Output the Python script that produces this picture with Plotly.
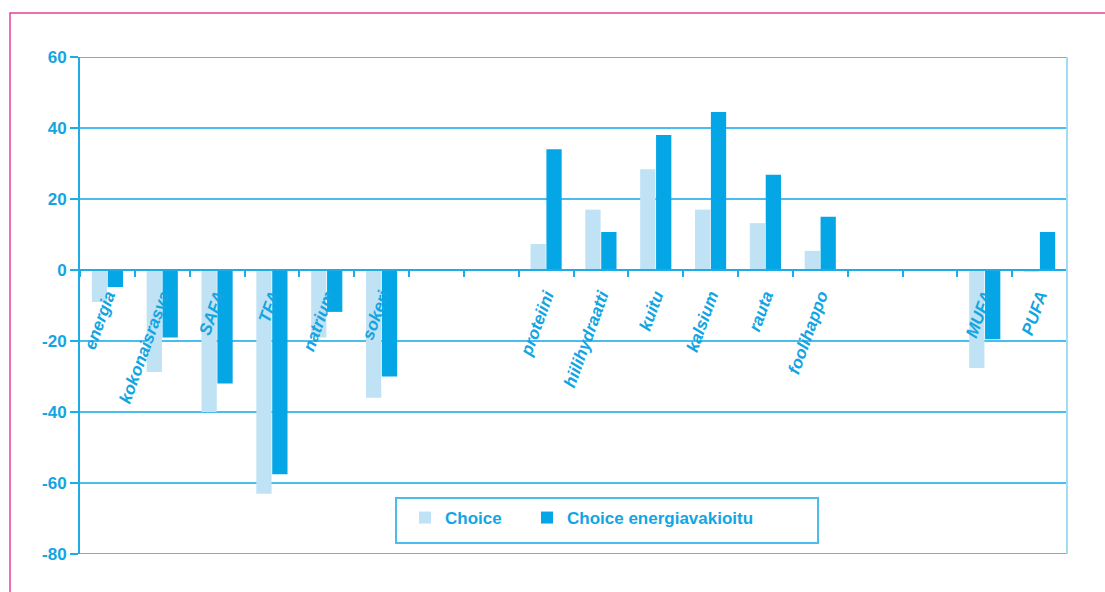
import plotly.graph_objects as go

categories = ["energia", "kokonaisrasva", "SAFA", "TFA", "natrium", "sokeri", " ", "  ",
              "proteiini", "hiilihydraatti", "kuitu", "kalsium", "rauta", "foolihappo",
              "   ", "    ", "MUFA", "PUFA"]
choice = [-9, -28.7, -40, -63, -19, -36, None, None,
          7.3, 17, 28.4, 17, 13.2, 5.4, None, None, -27.6, -0.5]
choice_energy = [-4.8, -19, -32, -57.5, -11.8, -30, None, None,
                 34, 10.7, 38, 44.5, 26.8, 15, None, None, -19.5, 10.7]
y_ticks = [60, 40, 20, 0, -20, -40, -60, -80]

LIGHT = "#bfe2f5"
DARK = "#05a6e5"
BLUE_TXT = "#12a5e2"
GRID = "#48bdee"
AXIS = "#1fabe6"
NARROW = "Liberation Sans Narrow, Arial Narrow, Liberation Sans, Arial, sans-serif"

fig = go.Figure()
fig.add_trace(go.Bar(x=categories, y=choice, name="Choice", marker_color=LIGHT,
                     marker_line_width=0, legend="legend"))
fig.add_trace(go.Bar(x=categories, y=choice_energy, name="Choice energiavakioitu",
                     marker_color=DARK, marker_line_width=0, legend="legend2"))

L, R, T, B = 80, 38, 57, 38
W, H = 1105, 592
pw, ph = W - L - R, H - T - B

def px_x(x):
    return (x - L) / pw

def px_y(y):
    return (H - B - y) / ph

legend_style = dict(orientation="h", xanchor="left", yanchor="top",
                    borderwidth=0, bgcolor="rgba(0,0,0,0)",
                    font=dict(family=NARROW, size=17, color=BLUE_TXT, weight="bold"),
                    itemsizing="constant")

fig.update_layout(
    width=W, height=H,
    margin=dict(l=L, r=R, t=T, b=B, pad=0),
    paper_bgcolor="white", plot_bgcolor="white",
    barmode="group", bargap=0.42, bargroupgap=0.04,
    font=dict(family=NARROW, color=BLUE_TXT, size=17),
    showlegend=True,
    legend=dict(x=px_x(405), y=px_y(500), **legend_style),
    legend2=dict(x=px_x(527), y=px_y(500), **legend_style),
    xaxis=dict(type="category", anchor="free", position=80 / 140,
               showline=True, linecolor=AXIS, linewidth=2,
               ticks="outside", tickson="boundaries", ticklen=6, tickwidth=2,
               tickcolor=AXIS, showgrid=False, zeroline=False,
               tickangle=-70, ticklabelstandoff=8,
               tickfont=dict(family=NARROW, size=17, color=BLUE_TXT,
                             weight="bold", style="italic")),
    yaxis=dict(range=[-80, 60], tickvals=y_ticks, ticktext=[str(v) for v in y_ticks],
               showgrid=True, gridcolor=GRID, gridwidth=2, zeroline=False,
               showline=True, linecolor=AXIS, linewidth=2,
               ticks="outside", ticklen=8, tickwidth=2, tickcolor=AXIS,
               tickfont=dict(family="Liberation Sans, Arial, sans-serif", size=17,
                             color=BLUE_TXT, weight="bold")),
    shapes=[
        dict(type="line", xref="paper", yref="y", x0=0, x1=1, y0=60, y1=60,
             line=dict(color=GRID, width=2)),
        dict(type="line", xref="paper", yref="y", x0=0, x1=1, y0=-80, y1=-80,
             line=dict(color=GRID, width=2)),
        dict(type="line", xref="paper", yref="paper", x0=1, x1=1, y0=0, y1=1,
             line=dict(color="#9fdcf5", width=2)),
        dict(type="rect", xref="paper", yref="paper",
             x0=px_x(396), x1=px_x(818), y0=px_y(543), y1=px_y(498),
             line=dict(color=GRID, width=2), fillcolor="white", layer="above"),
        dict(type="rect", xref="paper", yref="paper",
             x0=px_x(10), x1=px_x(1112), y0=px_y(600), y1=px_y(13),
             line=dict(color="#e8409a", width=1.5), layer="above"),
    ],
)

fig.write_html("out.html")
